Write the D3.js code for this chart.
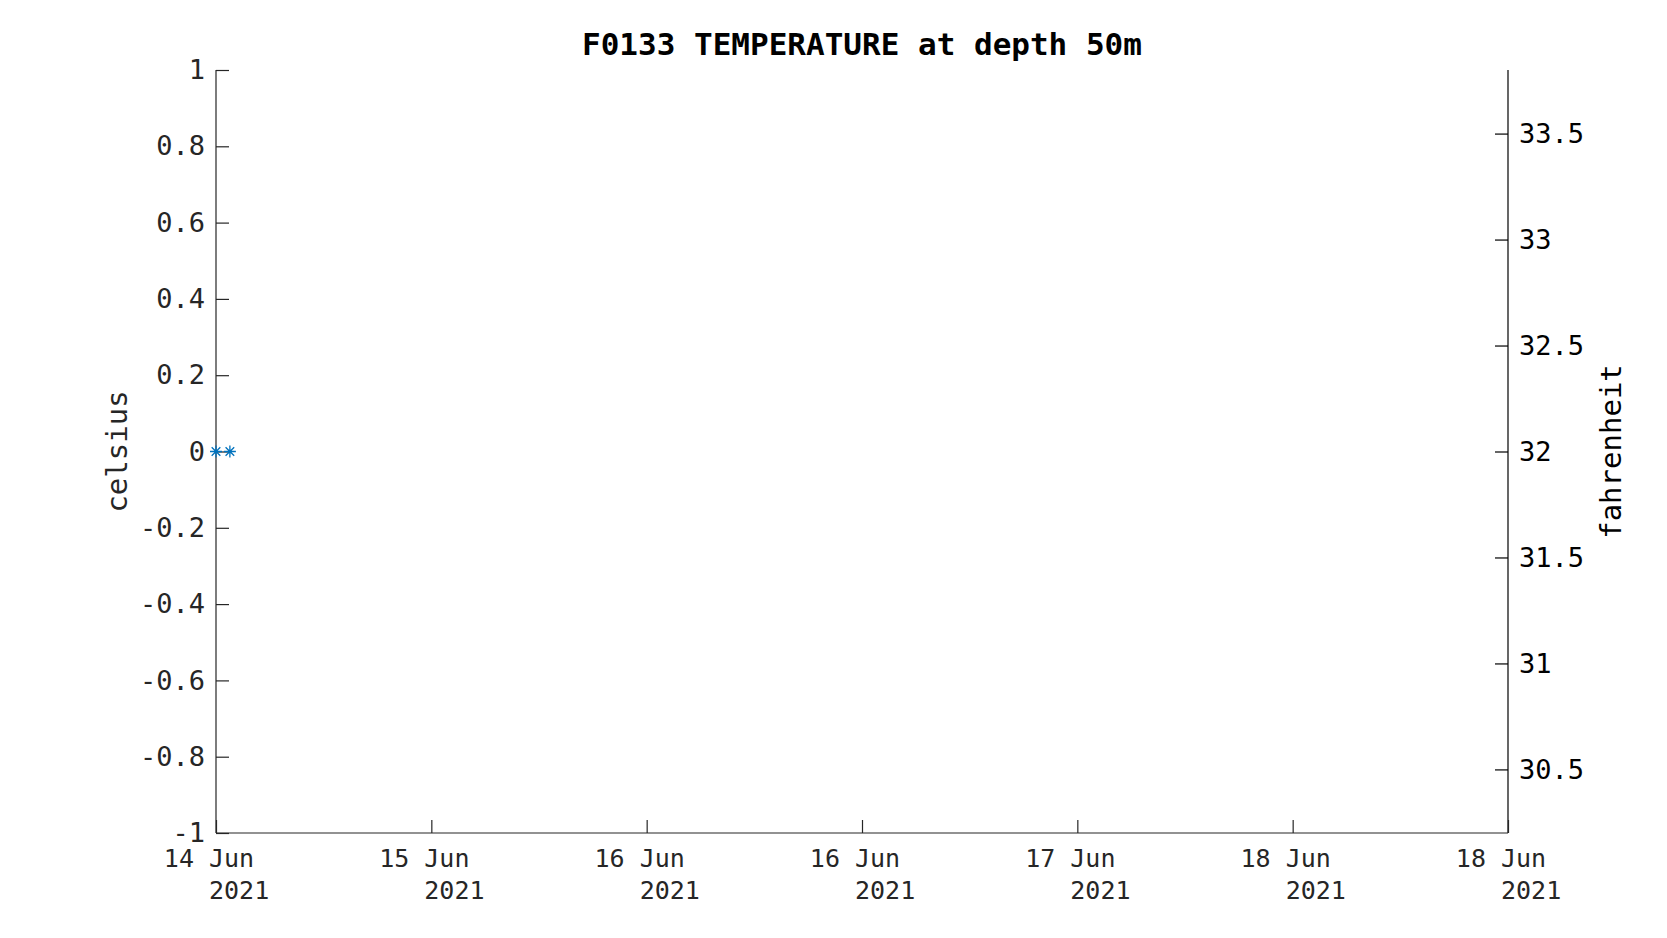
<!DOCTYPE html>
<html>
<head>
<meta charset="utf-8">
<script src="https://cdn.jsdelivr.net/npm/d3@7"></script>
<style>
  html, body { margin: 0; padding: 0; background: #fff; }
  svg { display: block; }
  text { font-family: "DejaVu Sans Mono", monospace; }
</style>
</head>
<body>
<svg id="chart" width="1667" height="938"></svg>
<script>
// ---- data ----
const titleText = "F0133 TEMPERATURE at depth 50m";
const obsTimes = ["2021-06-14T16:00:00", "2021-06-14T17:05:00"];
const obsCelsius = [0, 0];
const xTickTimes = ["2021-06-14T16:00:00", "2021-06-15T08:48:00", "2021-06-16T01:36:00",
                    "2021-06-16T18:24:00", "2021-06-17T11:12:00", "2021-06-18T04:00:00",
                    "2021-06-18T20:48:00"];
const xTickLine1 = ["14 Jun", "15 Jun", "16 Jun", "16 Jun", "17 Jun", "18 Jun", "18 Jun"];
const xTickLine2 = ["2021", "2021", "2021", "2021", "2021", "2021", "2021"];
const yTicks = [-1, -0.8, -0.6, -0.4, -0.2, 0, 0.2, 0.4, 0.6, 0.8, 1];
const yTickLabels = ["-1", "-0.8", "-0.6", "-0.4", "-0.2", "0", "0.2", "0.4", "0.6", "0.8", "1"];
const yDomain = [-1, 1];
const fTicks = [30.5, 31, 31.5, 32, 32.5, 33, 33.5];
const fTickLabels = ["30.5", "31", "31.5", "32", "32.5", "33", "33.5"];

// ---- layout ----
const L = 216, R = 1508, T = 70, B = 833;
const svg = d3.select("#chart");
const parse = d3.isoParse;
const xDates = xTickTimes.map(parse);

const x = d3.scaleTime().domain([xDates[0], xDates[xDates.length - 1]]).range([L, R]);
const y = d3.scaleLinear().domain(yDomain).range([B, T]);
const yF = d3.scaleLinear().domain(yDomain.map(c => c * 9 / 5 + 32)).range([B, T]);

const tickLen = 13;
const axisCol = "#262626";

// left axis
const gL = svg.append("g").attr("transform", `translate(${L},0)`)
  .call(d3.axisRight(y).tickValues(yTicks).tickSize(tickLen)
        .tickFormat((d, i) => yTickLabels[i]));
gL.select(".domain").attr("stroke", axisCol).attr("stroke-width", 1.2).attr("d", `M0,${T}V${B}`);
gL.selectAll(".tick line").attr("stroke", axisCol).attr("stroke-width", 1.2);
gL.selectAll(".tick text").attr("x", -11).attr("text-anchor", "end")
  .attr("font-size", 27).attr("fill", axisCol).attr("font-family", "DejaVu Sans Mono");

// right axis
const gR = svg.append("g").attr("transform", `translate(${R},0)`)
  .call(d3.axisLeft(yF).tickValues(fTicks).tickSize(tickLen)
        .tickFormat((d, i) => fTickLabels[i]));
gR.select(".domain").attr("stroke", "#000").attr("stroke-width", 1.2).attr("d", `M0,${T}V${B}`);
gR.selectAll(".tick line").attr("stroke", "#000").attr("stroke-width", 1.2);
gR.selectAll(".tick text").attr("x", 11).attr("text-anchor", "start")
  .attr("font-size", 27).attr("fill", "#000").attr("font-family", "DejaVu Sans Mono");

// bottom axis
const gB = svg.append("g").attr("transform", `translate(0,${B})`)
  .call(d3.axisTop(x).tickValues(xDates).tickSize(tickLen).tickFormat(() => ""));
gB.select(".domain").attr("stroke", axisCol).attr("stroke-width", 1.2).attr("d", `M${L},0H${R}`);
gB.selectAll(".tick line").attr("stroke", axisCol).attr("stroke-width", 1.2);
gB.selectAll(".tick text").remove();
const xfs = 25, adv = xfs * 0.602;
gB.selectAll(".tick").each(function(d, i) {
  const g = d3.select(this);
  g.append("text").attr("x", -3.5 * adv).attr("y", 34).attr("text-anchor", "start")
    .attr("font-size", xfs).attr("fill", axisCol).text(xTickLine1[i]);
  g.append("text").attr("x", -0.5 * adv).attr("y", 66).attr("text-anchor", "start")
    .attr("font-size", xfs).attr("fill", axisCol).text(xTickLine2[i]);
});

// axis labels
svg.append("text").attr("transform", `translate(117,${(T + B) / 2}) rotate(-90)`)
  .attr("text-anchor", "middle").attr("dominant-baseline", "central")
  .attr("font-size", 29).attr("fill", axisCol).text("celsius");
svg.append("text").attr("transform", `translate(1611,${(T + B) / 2}) rotate(-90)`)
  .attr("text-anchor", "middle").attr("dominant-baseline", "central")
  .attr("font-size", 29).attr("fill", "#000").text("fahrenheit");

// title
svg.append("text").attr("x", (L + R) / 2).attr("y", 55).attr("text-anchor", "middle")
  .attr("font-size", 31).attr("font-weight", "bold").attr("fill", "#000").text(titleText);

// markers (asterisk)
const r = 6, rd = r * 0.72;
const star = `M${-r},0H${r}M0,${-r}V${r}M${-rd},${-rd}L${rd},${rd}M${-rd},${rd}L${rd},${-rd}`;
svg.append("g").selectAll("path").data(obsTimes.map((t, i) => ({t: parse(t), v: obsCelsius[i]})))
  .join("path")
  .attr("transform", d => `translate(${x(d.t)},${y(d.v)})`)
  .attr("d", star).attr("stroke", "#0072BD").attr("stroke-width", 1.3).attr("fill", "none");
</script>
</body>
</html>
